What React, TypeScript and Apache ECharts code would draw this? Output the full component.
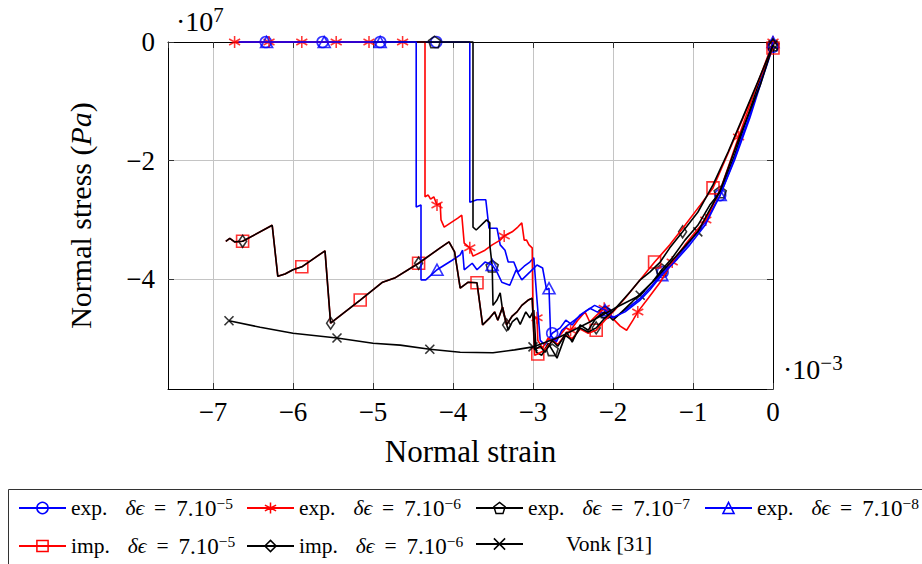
import React, { useEffect, useRef } from 'react';
import * as echarts from 'echarts';

// ---- data (strain in 1e-3, stress in 1e7 Pa) ----
const X_MIN = -7.5625;
const Y_MIN = -5.85;

const names = [
  'exp. δϵ = 7.10−5',
  'exp. δϵ = 7.10−6',
  'exp. δϵ = 7.10−7',
  'exp. δϵ = 7.10−8',
  'imp. δϵ = 7.10−5',
  'imp. δϵ = 7.10−6',
  'Vonk [31]',
];

const exp5Line: [number, number][] = [
  [-6.66, 0], [-3.79, 0], [-3.79, -2.7], [-3.7, -2.66], [-3.59, -2.66], [-3.55, -3.14], [-3.45, -3.14],
  [-3.41, -3.42], [-3.35, -3.51], [-3.31, -3.71], [-3.24, -3.71], [-3.19, -3.88], [-3.11, -3.78],
  [-3.04, -3.71], [-2.99, -3.64], [-2.95, -4.35], [-2.91, -5.03], [-2.85, -5.11], [-2.76, -4.91],
  [-2.66, -4.82], [-2.59, -4.69], [-2.51, -4.77], [-2.41, -4.6], [-2.29, -4.49], [-2.2, -4.55],
  [-2.09, -4.57], [-1.98, -4.65], [-1.85, -4.52], [-1.66, -4.32], [-1.51, -4.1], [-1.38, -3.88],
  [-1.23, -3.68], [-1.04, -3.37], [-0.85, -3.04], [-0.66, -2.58], [-0.48, -1.99], [-0.29, -1.28],
  [-0.14, -0.64], [0, -0.08],
];
const exp5Marks: [number, number][] = [
  [-6.34, 0], [-5.63, 0], [-4.91, 0], [-4.21, 0], [-2.76, -4.91], [-2.09, -4.57], [-1.38, -3.88],
  [-0.66, -2.58], [0, -0.08],
];

const exp6Line: [number, number][] = [
  [-6.73, 0], [-4.35, 0], [-4.35, -2.61], [-4.31, -2.58], [-4.28, -2.65], [-4.24, -2.61], [-4.2, -2.75],
  [-4.16, -2.72], [-4.15, -3.0], [-4.11, -3.12], [-3.94, -2.97], [-3.89, -2.92], [-3.86, -3.39],
  [-3.79, -3.47], [-3.75, -3.61], [-3.6, -3.51], [-3.51, -3.42], [-3.41, -3.34], [-3.36, -3.27],
  [-3.26, -3.2], [-3.19, -3.12], [-3.14, -3.05], [-3.11, -3.34], [-3.08, -3.34], [-3.05, -3.42],
  [-3.01, -3.47], [-3.0, -4.65], [-2.95, -4.65], [-2.94, -5.03], [-2.88, -5.16], [-2.81, -4.99],
  [-2.75, -5.06], [-2.66, -4.94], [-2.59, -4.82], [-2.53, -4.86], [-2.44, -4.69], [-2.35, -4.55],
  [-2.29, -4.72], [-2.2, -4.6], [-2.11, -4.49], [-2.01, -4.65], [-1.91, -4.79], [-1.83, -4.86],
  [-1.75, -4.69], [-1.69, -4.55], [-1.56, -4.32], [-1.41, -4.05], [-1.26, -3.71], [-1.1, -3.42],
  [-0.95, -3.17], [-0.84, -3.0], [-0.66, -2.5], [-0.43, -1.6], [-0.23, -0.84], [0, 0],
];
const exp6Marks: [number, number][] = [
  [-6.73, 0], [-6.3, 0], [-5.89, 0], [-5.46, 0], [-5.05, 0], [-4.63, 0], [-4.2, -2.75], [-3.79, -3.47],
  [-3.36, -3.27], [-2.95, -4.65], [-2.53, -4.86], [-2.11, -4.49], [-1.69, -4.55], [-1.26, -3.71],
  [-0.84, -3.0], [-0.43, -1.6], [0, 0],
];

const exp7Line: [number, number][] = [
  [-5.0, 0], [-3.75, 0], [-3.75, -3.12], [-3.71, -3.17], [-3.58, -3.0], [-3.54, -3.05], [-3.54, -3.42],
  [-3.51, -3.78], [-3.5, -4.44], [-3.45, -4.35], [-3.41, -4.23], [-3.38, -4.52], [-3.31, -4.86],
  [-3.26, -4.72], [-3.2, -4.65], [-3.16, -4.76], [-3.09, -4.55], [-3.04, -4.65], [-2.99, -4.52],
  [-2.96, -5.23], [-2.89, -5.28], [-2.81, -5.08], [-2.76, -5.19], [-2.7, -5.33], [-2.64, -5.11],
  [-2.58, -4.89], [-2.51, -5.06], [-2.41, -4.77], [-2.31, -4.86], [-2.21, -4.65], [-2.1, -4.55],
  [-2.0, -4.69], [-1.89, -4.55], [-1.76, -4.38], [-1.64, -4.22], [-1.51, -4.05], [-1.39, -3.84],
  [-1.26, -3.64], [-1.1, -3.34], [-0.94, -3.09], [-0.79, -2.75], [-0.66, -2.53], [-0.48, -1.91],
  [-0.29, -1.15], [-0.13, -0.51], [0, -0.05],
];
const exp7Marks: [number, number][] = [
  [-4.23, 0], [-3.51, -3.78], [-2.76, -5.19], [-2.1, -4.55], [-1.39, -3.84], [-0.66, -2.53], [0, -0.05],
];

const exp8Line: [number, number][] = [
  [-6.68, 0], [-4.46, 0], [-4.46, -2.78], [-4.4, -2.75], [-4.4, -4.01], [-4.34, -4.01], [-4.2, -3.84],
  [-4.01, -3.68], [-3.91, -3.59], [-3.88, -3.51], [-3.86, -3.84], [-3.76, -3.73], [-3.7, -3.84],
  [-3.6, -3.71], [-3.51, -3.76], [-3.45, -3.88], [-3.39, -4.05], [-3.29, -4.1], [-3.21, -3.84],
  [-3.14, -4.01], [-3.04, -3.88], [-2.95, -3.76], [-2.88, -3.81], [-2.83, -4.18], [-2.8, -4.15],
  [-2.78, -4.94], [-2.71, -5.06], [-2.64, -4.86], [-2.56, -4.77], [-2.48, -4.69], [-2.35, -4.55],
  [-2.23, -4.44], [-2.1, -4.52], [-2.01, -4.65], [-1.85, -4.55], [-1.66, -4.35], [-1.54, -4.18],
  [-1.39, -3.93], [-1.23, -3.71], [-1.04, -3.42], [-0.85, -3.09], [-0.66, -2.58], [-0.48, -1.96],
  [-0.29, -1.23], [-0.14, -0.61], [0, 0],
];
const exp8Marks: [number, number][] = [
  [-6.33, 0], [-5.61, 0], [-4.91, 0], [-4.2, -3.84], [-3.51, -3.76], [-2.8, -4.15], [-2.1, -4.52],
  [-1.39, -3.93], [-0.66, -2.58], [0, 0],
];

const impLeft: [number, number][] = [
  [-6.84, -3.36], [-6.79, -3.31], [-6.73, -3.37], [-6.63, -3.36], [-6.26, -3.09], [-6.19, -3.95],
  [-6.1, -3.91], [-6.0, -3.84], [-5.89, -3.79], [-5.6, -3.52], [-5.53, -4.74], [-5.16, -4.35],
  [-4.88, -4.05], [-4.73, -3.98], [-4.43, -3.73], [-4.16, -3.47], [-4.05, -3.37], [-3.98, -3.54],
  [-3.91, -4.15], [-3.81, -4.05], [-3.7, -4.06], [-3.63, -4.77], [-3.54, -4.65], [-3.48, -4.55],
  [-3.44, -4.69], [-3.38, -4.47], [-3.33, -4.77], [-3.26, -4.62], [-3.2, -4.55], [-3.14, -4.44],
  [-3.06, -4.35], [-3.01, -4.32],
];
const imp5Right: [number, number][] = [
  [-2.98, -5.28], [-2.94, -5.26], [-2.85, -5.19], [-2.76, -5.03], [-2.69, -5.1], [-2.6, -4.94],
  [-2.51, -5.0], [-2.41, -4.84], [-2.31, -4.91], [-2.21, -4.86], [-2.1, -4.69], [-1.98, -4.52],
  [-1.85, -4.32], [-1.66, -4.01], [-1.48, -3.71], [-1.29, -3.42], [-1.1, -3.09], [-0.91, -2.75],
  [-0.75, -2.46], [-0.56, -1.87], [-0.38, -1.3], [-0.19, -0.69], [0, -0.1],
];
const imp6Right: [number, number][] = [
  [-2.98, -5.19], [-2.91, -5.13], [-2.85, -5.23], [-2.76, -5.03], [-2.69, -5.13], [-2.6, -4.94],
  [-2.51, -5.03], [-2.41, -4.82], [-2.31, -4.89], [-2.21, -4.82], [-2.1, -4.65], [-2.01, -4.55],
  [-1.91, -4.4], [-1.79, -4.22], [-1.66, -4.01], [-1.54, -3.88], [-1.41, -3.71], [-1.29, -3.47],
  [-1.13, -3.2], [-0.94, -2.87], [-0.75, -2.41], [-0.56, -1.85], [-0.38, -1.28], [-0.19, -0.67],
  [0, -0.05],
];
const imp5Marks: [number, number][] = [
  [-6.63, -3.36], [-5.89, -3.79], [-5.16, -4.35], [-4.43, -3.73], [-3.7, -4.06], [-2.94, -5.26],
  [-2.21, -4.86], [-1.48, -3.71], [-0.75, -2.46], [0, -0.1],
];
const imp6Marks: [number, number][] = [
  [-6.63, -3.36], [-5.53, -4.74], [-4.43, -3.73], [-3.33, -4.77], [-2.21, -4.82], [-1.13, -3.2], [0, -0.05],
];

const vonkLine: [number, number][] = [
  [-6.8, -4.7], [-6.41, -4.81], [-6.0, -4.91], [-5.45, -4.99], [-5.0, -5.08], [-4.66, -5.11],
  [-4.29, -5.18], [-3.91, -5.23], [-3.5, -5.24], [-3.23, -5.19], [-3.0, -5.14], [-2.66, -4.97],
  [-2.29, -4.72], [-1.98, -4.49], [-1.66, -4.27], [-1.29, -3.73], [-0.94, -3.2], [-0.66, -2.5],
  [-0.41, -1.57], [-0.16, -0.73], [0, -0.05],
];
const vonkMarks: [number, number][] = [
  [-6.8, -4.7], [-5.45, -4.99], [-4.29, -5.18], [-3.0, -5.14], [-1.66, -4.27], [-0.94, -3.2], [0, -0.05],
];

// ---- styling ----
const BLUE = '#0000ff';
const RED = '#ff0000';
const BLACK = '#000000';
const SERIF = '"Liberation Serif", "Times New Roman", "DejaVu Serif", serif';

const STAR = 'path://M0,-10L0,10M-8.66,-5L8.66,5M-8.66,5L8.66,-5';
const PENTA = 'path://M0,-10L9.51,-3.09L5.88,8.09L-5.88,8.09L-9.51,-3.09Z';
const CROSS = 'path://M-10,-10L10,10M-10,10L10,-10';

const fmt = (v: number) => {
  if (Math.abs(v - Math.round(v)) > 1e-6) return '';
  const r = Math.round(v);
  return r < 0 ? '\u2212' + Math.abs(r) : '0';
};

type Def = {
  name: string; line: [number, number][]; marks: [number, number][]; color: string;
  symbol: string; size: number | number[];
};

const defs: Def[] = [
  { name: names[0], line: exp5Line, marks: exp5Marks, color: BLUE, symbol: 'circle', size: 11 },
  { name: names[1], line: exp6Line, marks: exp6Marks, color: RED, symbol: STAR, size: [11, 12] },
  { name: names[2], line: exp7Line, marks: exp7Marks, color: BLACK, symbol: PENTA, size: [12, 11.5] },
  { name: names[3], line: exp8Line, marks: exp8Marks, color: BLUE, symbol: 'triangle', size: [12, 11] },
  { name: names[4], line: [...impLeft, ...imp5Right], marks: imp5Marks, color: RED, symbol: 'rect', size: 12 },
  { name: names[5], line: [...impLeft, ...imp6Right], marks: imp6Marks, color: BLACK, symbol: 'diamond', size: [8, 12] },
  { name: names[6], line: vonkLine, marks: vonkMarks, color: BLACK, symbol: CROSS, size: 9 },
];

const legendPos = [
  { left: 18, top: 495 }, { left: 246, top: 495 }, { left: 475, top: 495 }, { left: 704, top: 495 },
  { left: 18, top: 533 }, { left: 246, top: 533 }, { left: 475, top: 533 },
];

const richBase = { fontFamily: SERIF, fontSize: 21.5, color: '#000', lineHeight: 26 };
const legendRich = {
  a: { ...richBase },
  b: { ...richBase, fontStyle: 'italic', padding: [0, 10, 0, 18] },
  e: { ...richBase, padding: [0, 10, 0, 0] },
  c: { ...richBase, fontSize: 23 },
  s: { fontFamily: SERIF, fontSize: 15.5, color: '#000', verticalAlign: 'top', lineHeight: 16 },
  v: { ...richBase, padding: [0, 0, 0, 38] },
};
const legendLabel = (n: string) => {
  if (n.startsWith('Vonk')) return `{v|${n}}`;
  const m = n.match(/^(\S+) (\S+) = 7\.10(.+)$/);
  if (!m) return n;
  return `{a|${m[1]}}{b|${m[2]}}{e|=}{c|7.10}{s|${m[3]}}`;
};

const option: any = {
  animation: false,
  backgroundColor: '#ffffff',
  grid: { left: 168, top: 42, width: 605, height: 347, containLabel: false, outerBoundsMode: 'none' },
  xAxis: [
    {
      type: 'value', min: X_MIN, max: 0, minInterval: 1, maxInterval: 1, position: 'bottom',
      axisLine: { show: true, onZero: false, lineStyle: { color: '#000', width: 1 } },
      axisTick: { show: true, inside: true, length: 6, lineStyle: { color: '#333', width: 1 } },
      axisLabel: { showMinLabel: false, formatter: fmt, fontFamily: SERIF, fontSize: 27, color: '#000', margin: 9 },
      splitLine: { show: true, lineStyle: { color: '#c4c4c4', width: 1 } },
      name: 'Normal strain', nameLocation: 'middle', nameGap: 47,
      nameTextStyle: { fontFamily: SERIF, fontSize: 31, color: '#000' },
    },
    {
      type: 'value', min: X_MIN, max: 0, minInterval: 1, maxInterval: 1, position: 'top',
      axisLine: { show: true, onZero: false, lineStyle: { color: '#000', width: 1 } },
      axisTick: { show: true, inside: true, length: 6, lineStyle: { color: '#333', width: 1 } },
      axisLabel: { show: false }, splitLine: { show: false },
    },
  ],
  yAxis: [
    {
      type: 'value', min: Y_MIN, max: 0, minInterval: 2, maxInterval: 2, position: 'left',
      axisLine: { show: true, onZero: false, lineStyle: { color: '#000', width: 1 } },
      axisTick: { show: true, inside: true, length: 6, lineStyle: { color: '#333', width: 1 } },
      axisLabel: { showMinLabel: false, formatter: fmt, fontFamily: SERIF, fontSize: 27, color: '#000', margin: 13 },
      splitLine: { show: true, lineStyle: { color: '#c4c4c4', width: 1 } },
      name: '{n|Normal stress (}{i|Pa}{n|)}', nameLocation: 'middle', nameGap: 73,
      nameTextStyle: {
        fontFamily: SERIF, fontSize: 30, color: '#000',
        rich: {
          n: { fontFamily: SERIF, fontSize: 30, color: '#000' },
          i: { fontFamily: SERIF, fontSize: 30, color: '#000', fontStyle: 'italic' },
        },
      },
    },
    {
      type: 'value', min: Y_MIN, max: 0, minInterval: 2, maxInterval: 2, position: 'right',
      axisLine: { show: true, onZero: false, lineStyle: { color: '#000', width: 1 } },
      axisTick: { show: true, inside: true, length: 6, lineStyle: { color: '#333', width: 1 } },
      axisLabel: { show: false }, splitLine: { show: false },
    },
  ],
  legend: defs.map((d, i) => ({
    data: [{ name: d.name, itemStyle: { color: 'none', borderColor: d.color, borderWidth: 1.5 } }],
    left: legendPos[i].left, top: legendPos[i].top, padding: 0,
    itemWidth: 47, itemHeight: 14, selectedMode: false,
    formatter: legendLabel,
    textStyle: { fontFamily: SERIF, fontSize: 21.5, color: '#000', rich: legendRich },
  })),
  graphic: [
    {
      type: 'rect', silent: true, shape: { x: 8.5, y: 489.5, width: 940, height: 100 },
      style: { fill: 'none', stroke: '#333', lineWidth: 1 },
    },
    {
      type: 'text', left: 176, top: 4, silent: true,
      style: {
        text: '{a|·10}{s|7}',
        rich: {
          a: { fontFamily: SERIF, fontSize: 28, fill: '#000', lineHeight: 34 },
          s: { fontFamily: SERIF, fontSize: 21, fill: '#000', verticalAlign: 'top', lineHeight: 20 },
        },
      },
    },
    {
      type: 'text', left: 783, top: 352, silent: true,
      style: {
        text: '{a|·10}{s|\u22123}',
        rich: {
          a: { fontFamily: SERIF, fontSize: 28, fill: '#000', lineHeight: 34 },
          s: { fontFamily: SERIF, fontSize: 21, fill: '#000', verticalAlign: 'top', lineHeight: 20 },
        },
      },
    },
  ],
  series: defs.flatMap((d) => [
    {
      type: 'line', name: d.name, data: d.line, xAxisIndex: 0, yAxisIndex: 0,
      symbol: d.symbol, symbolSize: d.size, showSymbol: false, clip: false,
      lineStyle: { color: d.color, width: 1.6 }, itemStyle: { color: d.color },
      emphasis: { disabled: true }, silent: true,
    },
    {
      type: 'scatter', name: d.name, data: d.marks, xAxisIndex: 0, yAxisIndex: 0,
      symbol: d.symbol, symbolSize: d.size, clip: false,
      itemStyle: { color: 'none', borderColor: d.color, borderWidth: 1.6 },
      emphasis: { disabled: true }, silent: true,
    },
  ]),
};

export default function App() {
  const ref = useRef<HTMLDivElement>(null);
  useEffect(() => {
    if (!ref.current) return;
    const chart = echarts.init(ref.current, null, { renderer: 'svg' });
    chart.setOption(option);
    return () => chart.dispose();
  }, []);
  return (
    <div
      ref={ref}
      style={{ position: 'fixed', left: 0, top: 0, width: 922, height: 564, background: '#fff' }}
    />
  );
}
